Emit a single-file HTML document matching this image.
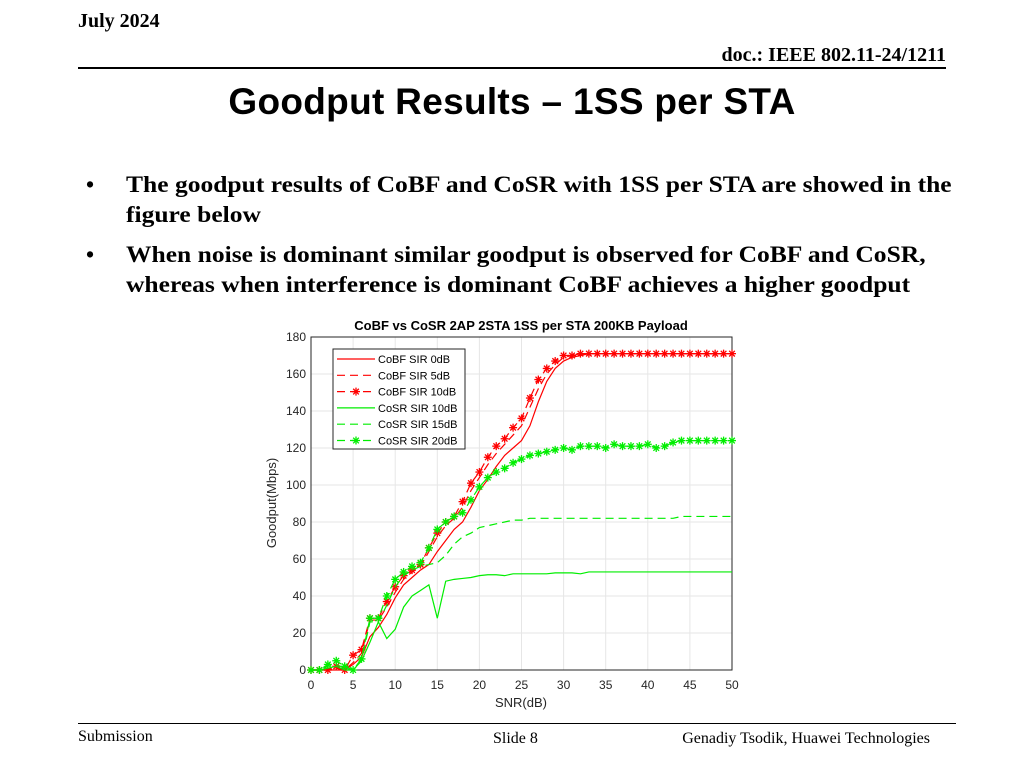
<!DOCTYPE html>
<html><head><meta charset="utf-8"><style>
body{margin:0;width:1024px;height:768px;background:#fff;position:relative;overflow:hidden;font-family:"Liberation Serif",serif}
.a{position:absolute;white-space:nowrap}
</style></head><body>
<div class="a" style="left:78px;top:10px;font-size:20px;font-weight:bold">July 2024</div>
<div class="a" style="right:78px;top:44px;font-size:20px;font-weight:bold">doc.: IEEE 802.11-24/1211</div>
<div class="a" style="left:78px;top:67px;width:868px;height:2px;background:#000"></div>
<div class="a" style="left:0;width:1024px;text-align:center;top:81px;font-family:'Liberation Sans',sans-serif;font-size:37px;font-weight:bold;letter-spacing:0.3px">Goodput Results – 1SS per STA</div>
<div class="a" style="left:86px;top:170px;font-size:23px;font-weight:bold;line-height:30px">•<span style="position:absolute;left:40px;transform:scaleX(1.11);transform-origin:left">The goodput results of CoBF and CoSR with 1SS per STA are showed in the<br>figure below</span></div>
<div class="a" style="left:86px;top:240px;font-size:23px;font-weight:bold;line-height:30px">•<span style="position:absolute;left:40px;transform:scaleX(1.11);transform-origin:left">When noise is dominant similar goodput is observed for CoBF and CoSR,<br>whereas when interference is dominant CoBF achieves a higher goodput</span></div>
<svg id="chart" class="a" style="left:0;top:0" width="1024" height="768" font-family="Liberation Sans, sans-serif"></svg>
<div class="a" style="left:78px;top:723px;width:878px;height:1px;background:#000"></div>
<div class="a" style="left:78px;top:728px;font-size:16px">Submission</div>
<div class="a" style="left:493px;top:730px;font-size:16px">Slide 8</div>
<div class="a" style="right:94px;top:730px;font-size:16px">Genadiy Tsodik, Huawei Technologies</div>
<script>
const snr=[];for(let i=0;i<=50;i++)snr.push(i);
const cobf0=[0,0,0,0,0,3,7,18,23,30,39,46,50,54,57,64,70,76,80,88,97,103,110,116,120,124,132,145,156,163,167,169,170,171,171,171,171,171,171,171,171,171,171,171,171,171,171,171,171,171,171];
const cobf5=[0,0,0,1,0,4,9,27,27,34,42,49,53,56,64,72,78,82,88,97,104,111,117,122,127,132,142,152,160,165,169,170,171,171,171,171,171,171,171,171,171,171,171,171,171,171,171,171,171,171,171];
const cobf10=[0,0,0,2,0,8,11,28,28,37,45,51,54,57,66,74,80,83,91,101,107,115,121,125,131,136,147,157,163,167,170,170,171,171,171,171,171,171,171,171,171,171,171,171,171,171,171,171,171,171,171];
const cosr10=[0,0,1,2,0,0,5,15,26,17,22,34,40,43,46,28,48,49,49.5,50,51,51.5,51.5,51,52,52,52,52,52,52.5,52.5,52.5,52,53,53,53,53,53,53,53,53,53,53,53,53,53,53,53,53,53,53];
const cosr15=[0,0,2,3,1,0,5,26,26,35,45,51,54,56,57,58,62,68,72,74,77,78,79,80,81,81,82,82,82,82,82,82,82,82,82,82,82,82,82,82,82,82,82,82,83,83,83,83,83,83,83];
const cosr20=[0,0,3,5,2,0,6,28,28,40,49,53,56,58,66,76,80,83,85,92,99,104,107,109,112,114,116,117,118,119,120,119,121,121,121,120,122,121,121,121,122,120,121,123,124,124,124,124,124,124,124];
const xTicks=[0,5,10,15,20,25,30,35,40,45,50];
const yTicks=[0,20,40,60,80,100,120,140,160,180];
const X0=311,X1=732,Y0=670,Y1=337;
const xs=v=>X0+(X1-X0)*v/50, ys=v=>Y0-(Y0-Y1)*v/180;
const svg=document.getElementById('chart');const NS='http://www.w3.org/2000/svg';
function mk(t,a,p){const e=document.createElementNS(NS,t);for(const k in a)e.setAttribute(k,a[k]);(p||svg).appendChild(e);return e;}
let e=mk('rect',{x:X0,y:Y1,width:X1-X0,height:Y0-Y1,fill:'#fff',stroke:'none'});


xTicks.forEach(t=>{mk('line',{x1:xs(t),x2:xs(t),y1:Y1,y2:Y0,stroke:'#e6e6e6'});
 let tx=mk('text',{x:xs(t),y:Y0+19,'text-anchor':'middle','font-size':12,fill:'#262626'});tx.textContent=t;
 
 });
yTicks.forEach(t=>{mk('line',{x1:X0,x2:X1,y1:ys(t),y2:ys(t),stroke:'#e6e6e6'});
 let tx=mk('text',{x:X0-5,y:ys(t)+4,'text-anchor':'end','font-size':12,fill:'#262626'});tx.textContent=t;
 
 });
mk('rect',{x:X0,y:Y1,width:X1-X0,height:Y0-Y1,fill:'none',stroke:'#262626','stroke-width':1});
function star(g,x,y,c){for(let a=0;a<4;a++){const an=a*Math.PI/4;mk('line',{x1:x-4*Math.cos(an),y1:y-4*Math.sin(an),x2:x+4*Math.cos(an),y2:y+4*Math.sin(an),stroke:c,'stroke-width':1.3},g);}}
const series=[[cobf0,'#ff0000','',false,'CoBF SIR 0dB'],[cobf5,'#ff0000','8,5',false,'CoBF SIR 5dB'],[cobf10,'#ff0000','8,5',true,'CoBF SIR 10dB'],
[cosr10,'#00ee00','',false,'CoSR SIR 10dB'],[cosr15,'#00ee00','8,5',false,'CoSR SIR 15dB'],[cosr20,'#00ee00','8,5',true,'CoSR SIR 20dB']];
series.forEach((s,i)=>{const g=mk('g',{});
 
 
 mk('polyline',{points:s[0].map((v,j)=>xs(snr[j])+','+ys(v)).join(' '),fill:'none',stroke:s[1],'stroke-width':1.2,'stroke-dasharray':s[2]},g);
 if(s[3])s[0].forEach((v,j)=>star(g,xs(snr[j]),ys(v),s[1]));});
const lg=mk('g',{});


mk('rect',{x:333,y:349,width:132,height:100,fill:'#fff',stroke:'#262626'},lg);
series.forEach((s,i)=>{const y=359+i*16.3;
 mk('line',{x1:337,x2:375,y1:y,y2:y,stroke:s[1],'stroke-width':1.2,'stroke-dasharray':s[2]},lg);
 if(s[3])star(lg,356,y,s[1]);
 const t=mk('text',{x:378,y:y+4,'font-size':11,fill:'#000'},lg);t.textContent=s[4];
 
 });
let t=mk('text',{x:521,y:330,'text-anchor':'middle','font-size':13,'font-weight':'bold',fill:'#000'});t.textContent='CoBF vs CoSR 2AP 2STA 1SS per STA 200KB Payload';


t=mk('text',{x:521,y:707,'text-anchor':'middle','font-size':13,fill:'#262626'});t.textContent='SNR(dB)';


t=mk('text',{x:0,y:0,'text-anchor':'middle','font-size':13,fill:'#262626',transform:'translate(276,503) rotate(-90)'});t.textContent='Goodput(Mbps)';


</script>
</body></html>
